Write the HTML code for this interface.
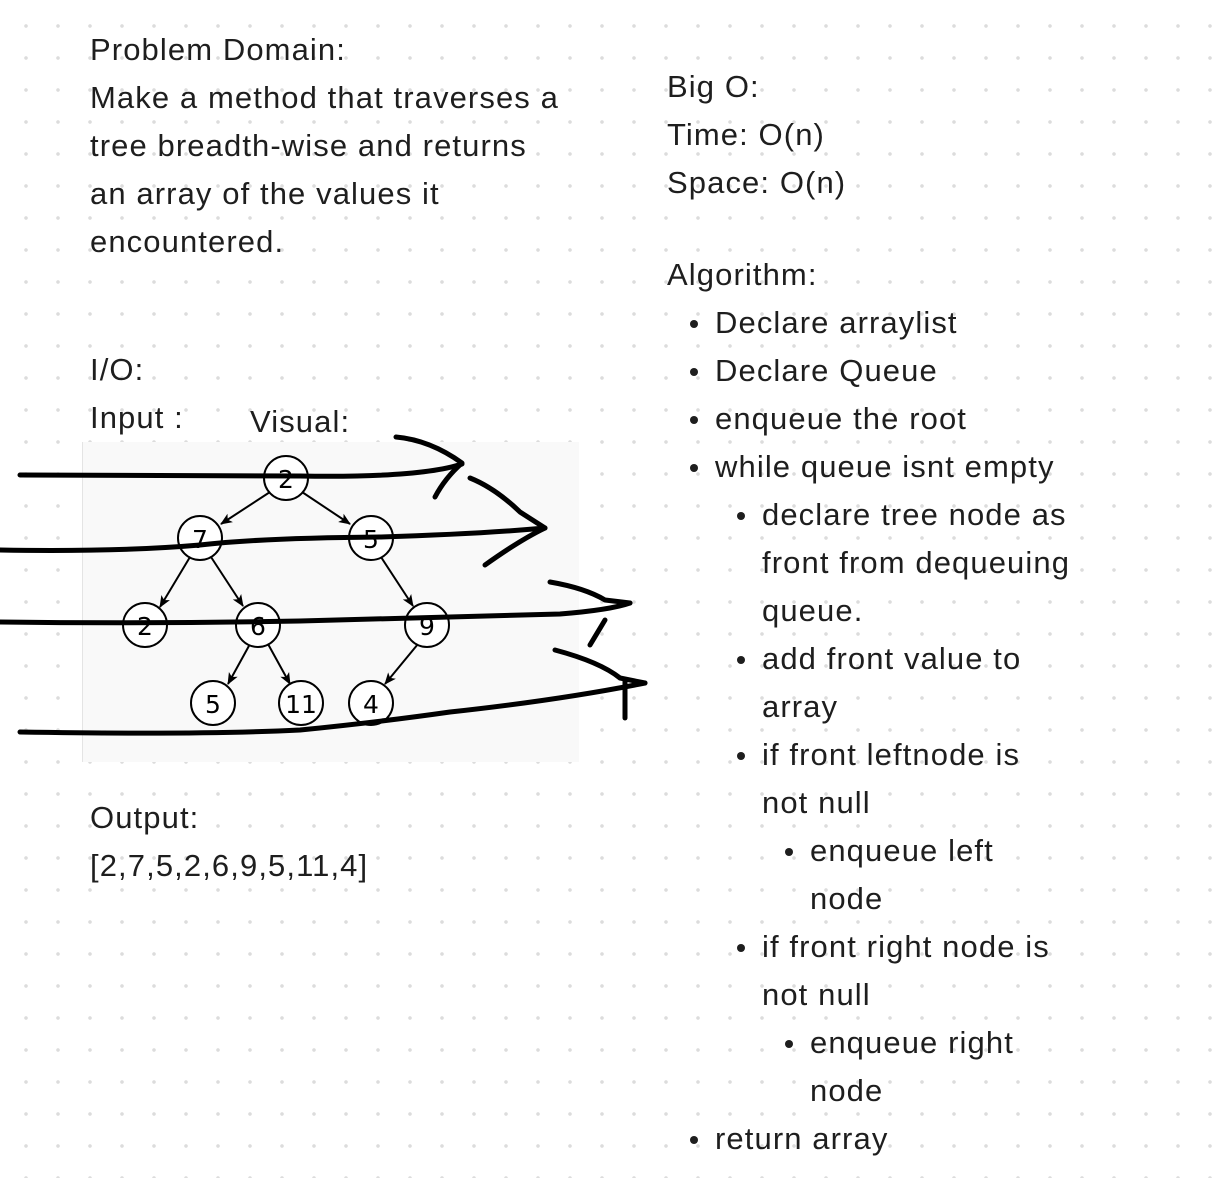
<!DOCTYPE html>
<html><head><meta charset="utf-8"><style>
html,body{margin:0;padding:0}
body{width:1212px;height:1178px;position:relative;overflow:hidden;background:#fff;
background-image:radial-gradient(circle,#dcdcdc 1.6px,transparent 2px);background-size:32px 32px;background-position:10px 10px;
font-family:"Liberation Sans",sans-serif;color:#1e1e1e}
.t,.b{position:absolute;font-size:31px;line-height:48px;white-space:nowrap;letter-spacing:1.1px}
.b::before{content:"";position:absolute;left:-25px;top:21px;width:8px;height:8px;border-radius:50%;background:#1e1e1e}
</style></head><body>
<div class="t" style="left:90px;top:26px">Problem Domain:<br>Make a method that traverses a<br>tree breadth-wise and returns<br>an array of the values it<br>encountered.</div>
<div class="t" style="left:90px;top:346px">I/O:<br>Input :</div>
<div class="t" style="left:250px;top:398px">Visual:</div>
<div class="t" style="left:90px;top:794px">Output:<br>[2,7,5,2,6,9,5,11,4]</div>
<div class="t" style="left:667px;top:63px">Big O:<br>Time: O(n)<br>Space: O(n)</div>
<div class="t" style="left:667px;top:251px">Algorithm:</div>
<div class="b" style="left:715px;top:299px">Declare arraylist</div>
<div class="b" style="left:715px;top:347px">Declare Queue</div>
<div class="b" style="left:715px;top:395px">enqueue the root</div>
<div class="b" style="left:715px;top:443px">while queue isnt empty</div>
<div class="b" style="left:762px;top:491px">declare tree node as<br>front from dequeuing<br>queue.</div>
<div class="b" style="left:762px;top:635px">add front value to<br>array</div>
<div class="b" style="left:762px;top:731px">if front leftnode is<br>not null</div>
<div class="b" style="left:810px;top:827px">enqueue left<br>node</div>
<div class="b" style="left:762px;top:923px">if front right node is<br>not null</div>
<div class="b" style="left:810px;top:1019px">enqueue right<br>node</div>
<div class="b" style="left:715px;top:1115px">return array</div>
<div style="position:absolute;left:82px;top:442px;width:496px;height:320px;background:#f9f9f9;border-left:1px solid #e4e4e4"></div>
<svg style="position:absolute;left:0;top:0" width="1212" height="1178">
<defs><marker id="a" markerWidth="14" markerHeight="14" refX="11" refY="6" orient="auto" markerUnits="userSpaceOnUse"><path d="M0,1 L12,6 L0,11 L3,6z" fill="#000"/></marker></defs>
<g stroke="#000" stroke-width="2" fill="none" marker-end="url(#a)">
<line x1="270" y1="492" x2="221" y2="524"/><line x1="302" y1="492" x2="350" y2="524"/>
<line x1="190" y1="557" x2="160" y2="607"/><line x1="211" y1="557" x2="243" y2="606"/>
<line x1="381" y1="557" x2="413" y2="606"/>
<line x1="250" y1="644" x2="228" y2="684"/><line x1="268" y1="644" x2="290" y2="684"/>
<line x1="418" y1="644" x2="385" y2="684"/>
</g>
<g stroke="#000" stroke-width="2" fill="#fff">
<ellipse cx="286" cy="478" rx="22" ry="22"/><ellipse cx="200" cy="538" rx="22" ry="22"/><ellipse cx="371" cy="538" rx="22" ry="22"/>
<ellipse cx="145" cy="625" rx="22" ry="22"/><ellipse cx="258" cy="625" rx="22" ry="22"/><ellipse cx="427" cy="625" rx="22" ry="22"/>
<ellipse cx="213" cy="703" rx="22" ry="22"/><ellipse cx="301" cy="703" rx="22" ry="22"/><ellipse cx="371" cy="703" rx="22" ry="22"/>
</g>
<g font-family="DejaVu Sans,sans-serif" font-size="25" text-anchor="middle" fill="#000">
<text x="286" y="488">2</text><text x="200" y="548">7</text><text x="371" y="548">5</text>
<text x="145" y="635">2</text><text x="258" y="635">6</text><text x="427" y="635">9</text>
<text x="213" y="713">5</text><text x="301" y="713">11</text><text x="371" y="713">4</text>
</g>
<g stroke="#000" stroke-width="5" fill="none" stroke-linecap="round" stroke-linejoin="round">
<path d="M20,475 L300,476 Q420,478 462,464"/>
<path d="M396,437 Q430,440 462,463 Q445,478 435,497"/>
<path d="M0,550 Q120,552 200,545 Q260,538 380,537 Q480,534 545,528"/>
<path d="M470,478 Q495,488 520,512 L545,528 Q520,540 485,565"/>
<path d="M0,622 Q150,624 300,621 Q480,616 560,614 Q610,610 630,603"/>
<path d="M550,582 Q585,588 605,600 L630,603"/>
<path d="M590,645 L605,620"/>
<path d="M20,732 Q200,735 300,730 Q380,722 450,712 Q560,700 645,683"/>
<path d="M555,650 Q600,662 620,678 L645,683"/>
<path d="M625,680 L625,718"/>
</g>
</svg>
</body></html>
